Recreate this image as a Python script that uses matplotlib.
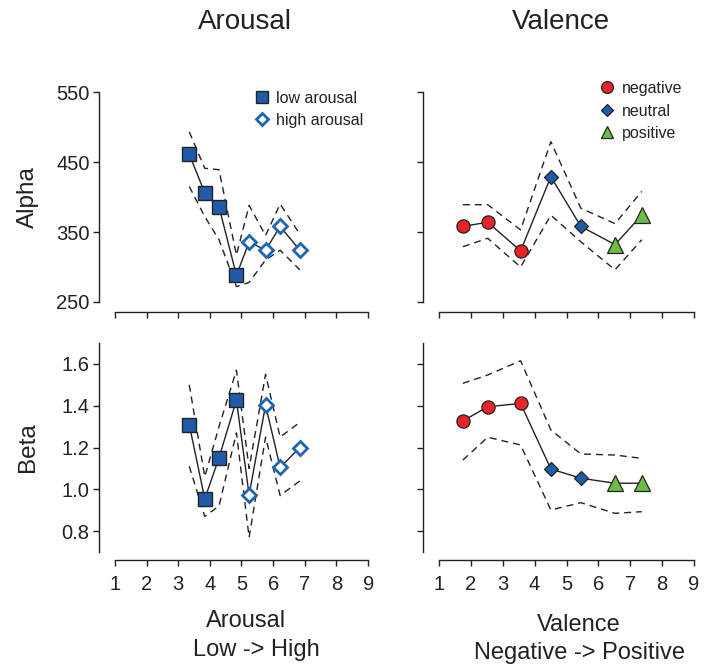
import matplotlib
matplotlib.use('Agg')
import matplotlib.pyplot as plt
from matplotlib.lines import Line2D

plt.rcParams['font.family'] = ['Liberation Sans', 'DejaVu Sans']

# ---------------- data ----------------
# Arousal panels (x = mean arousal rating of bins)
ar_x_low = [3.35, 3.84, 4.29, 4.84]
ar_x_high = [5.24, 5.76, 6.22, 6.84]

alpha_ar_low = [461, 406, 386, 288]
alpha_ar_high = [336, 324, 358, 324]
alpha_ar_upper = [493, 441, 439, 317, 388, 345, 390, 347]
alpha_ar_lower = [415, 372, 339, 272, 278, 310, 324, 296]

beta_ar_low = [1.31, 0.954, 1.151, 1.427]
beta_ar_high = [0.973, 1.403, 1.105, 1.199]
beta_ar_upper = [1.50, 1.06, 1.30, 1.57, 1.10, 1.55, 1.25, 1.32]
beta_ar_lower = [1.11, 0.87, 0.92, 1.27, 0.77, 1.25, 0.97, 1.04]

# Valence panels
val_x_neg = [1.75, 2.53, 3.56]
val_x_neu = [4.51, 5.45]
val_x_pos = [6.52, 7.36]

alpha_val_neg = [358, 364, 323]
alpha_val_neu = [429, 358]
alpha_val_pos = [332, 374]
alpha_val_upper = [389, 389, 353, 479, 384, 362, 408]
alpha_val_lower = [329, 341, 300, 374, 336, 296, 339]

beta_val_neg = [1.327, 1.395, 1.411]
beta_val_neu = [1.097, 1.053]
beta_val_pos = [1.029, 1.029]
beta_val_upper = [1.507, 1.547, 1.615, 1.284, 1.169, 1.164, 1.148]
beta_val_lower = [1.140, 1.249, 1.212, 0.901, 0.936, 0.885, 0.893]

x_ticks = [1, 2, 3, 4, 5, 6, 7, 8, 9]
alpha_ticks = [250, 350, 450, 550]
beta_ticks = [0.8, 1.0, 1.2, 1.4, 1.6]
beta_ticklabels = ['0.8', '1.0', '1.2', '1.4', '1.6']

# ---------------- style ----------------
BLUE = '#1f5ba8'
OPEN_BLUE = '#1e64b4'
RED = '#e8232a'
GREEN = '#6cbd45'
EDGE = '#222222'
DASH = (0, (5, 3.6))

W, H = 717, 665
fig = plt.figure(figsize=(W / 100, H / 100), dpi=100)


def ax_at(l, t, r, b):
    return fig.add_axes([l / W, 1 - b / H, (r - l) / W, (b - t) / H])


ax1 = ax_at(99, 92, 384, 302)
ax2 = ax_at(423, 92, 710, 302)
ax3 = ax_at(99, 343, 384, 552)
ax4 = ax_at(423, 343, 710, 552)

for ax, top in [(ax1, True), (ax2, True), (ax3, False), (ax4, False)]:
    ax.set_xlim(0.5, 9.5)
    ax.spines['top'].set_visible(False)
    ax.spines['right'].set_visible(False)
    ax.spines['bottom'].set_bounds(1, 9)
    ax.spines['bottom'].set_position(('outward', 7 if top else 6))
    for s in ('left', 'bottom'):
        ax.spines[s].set_linewidth(1.0)
        ax.spines[s].set_color('#222222')
    ax.set_xticks(x_ticks)
    ax.tick_params(axis='both', direction='out', length=4.3, width=1.0,
                   color='#222222', labelsize=14.5, labelcolor='#222222')
    ax.tick_params(axis='y', pad=2.5)
    ax.tick_params(axis='x', pad=6)
    if top:
        ax.set_ylim(250, 550)
        ax.set_yticks(alpha_ticks)
        ax.tick_params(axis='x', labelbottom=False)
    else:
        ax.set_ylim(0.7, 1.7)
        ax.set_yticks(beta_ticks)
        ax.set_yticklabels(beta_ticklabels)

for ax in (ax2, ax4):
    ax.tick_params(axis='y', labelleft=False)


def draw_arousal(ax, low, high, upper, lower):
    xs = ar_x_low + ar_x_high
    ys = low + high
    ax.plot(xs, upper, ls=DASH, color=EDGE, lw=1.0, zorder=1)
    ax.plot(xs, lower, ls=DASH, color=EDGE, lw=1.0, zorder=1)
    ax.plot(xs, ys, color=EDGE, lw=1.0, zorder=2)
    ax.plot(ar_x_low, low, ls='none', marker='s', ms=10, mfc=BLUE, mec=EDGE,
            mew=1.0, zorder=3)
    ax.plot(ar_x_high, high, ls='none', marker='D', ms=7, mfc='white',
            mec=OPEN_BLUE, mew=2.0, zorder=3)


def draw_valence(ax, neg, neu, pos, upper, lower):
    xs = val_x_neg + val_x_neu + val_x_pos
    ys = neg + neu + pos
    ax.plot(xs, upper, ls=DASH, color=EDGE, lw=1.0, zorder=1)
    ax.plot(xs, lower, ls=DASH, color=EDGE, lw=1.0, zorder=1)
    ax.plot(xs, ys, color=EDGE, lw=1.0, zorder=2)
    ax.plot(val_x_neg, neg, ls='none', marker='o', ms=9.5, mfc=RED, mec=EDGE,
            mew=0.9, zorder=3)
    ax.plot(val_x_neu, neu, ls='none', marker='D', ms=7.2, mfc=BLUE, mec=EDGE,
            mew=0.9, zorder=3)
    ax.plot(val_x_pos, pos, ls='none', marker='^', ms=11, mfc=GREEN, mec=EDGE,
            mew=0.9, zorder=3)


draw_arousal(ax1, alpha_ar_low, alpha_ar_high, alpha_ar_upper, alpha_ar_lower)
draw_arousal(ax3, beta_ar_low, beta_ar_high, beta_ar_upper, beta_ar_lower)
draw_valence(ax2, alpha_val_neg, alpha_val_neu, alpha_val_pos,
             alpha_val_upper, alpha_val_lower)
draw_valence(ax4, beta_val_neg, beta_val_neu, beta_val_pos,
             beta_val_upper, beta_val_lower)

# legends
h_low = Line2D([], [], ls='none', marker='s', ms=8, mfc=BLUE, mec=EDGE, mew=1.0)
h_high = Line2D([], [], ls='none', marker='D', ms=6, mfc='white', mec=OPEN_BLUE, mew=2.0)
ax1.legend([h_low, h_high], ['low arousal', 'high arousal'], loc='upper left',
           bbox_to_anchor=(254 / W, 1 - 91 / H), bbox_transform=fig.transFigure,
           frameon=False, fontsize=11.5, handlelength=1.0, handletextpad=0.4,
           labelspacing=0.42, borderpad=0, borderaxespad=0, labelcolor='#222222')

h_neg = Line2D([], [], ls='none', marker='o', ms=8.5, mfc=RED, mec=EDGE, mew=0.9)
h_neu = Line2D([], [], ls='none', marker='D', ms=6, mfc=BLUE, mec=EDGE, mew=0.9)
h_pos = Line2D([], [], ls='none', marker='^', ms=9, mfc=GREEN, mec=EDGE, mew=0.9)
ax2.legend([h_neg, h_neu, h_pos], ['negative', 'neutral', 'positive'], loc='upper left',
           bbox_to_anchor=(599 / W, 1 - 81 / H), bbox_transform=fig.transFigure,
           frameon=False, fontsize=11.5, handlelength=1.0, handletextpad=0.45,
           labelspacing=0.47, borderpad=0, borderaxespad=0, labelcolor='#222222')

# titles and labels
TXT = '#222222'
fig.text(245 / W, 1 - 22 / H, 'Arousal', ha='center', va='center', fontsize=20, color=TXT)
fig.text(561 / W, 1 - 22 / H, 'Valence', ha='center', va='center', fontsize=20, color=TXT)
fig.text(28 / W, 1 - 197 / H, 'Alpha', ha='center', va='center', rotation=90,
         fontsize=17.5, color=TXT)
fig.text(28 / W, 1 - 447 / H, 'Beta', ha='center', va='center', rotation=90,
         fontsize=17.5, color=TXT)
fig.text(246 / W, 1 - 621 / H, 'Arousal', ha='center', va='center', fontsize=17, color=TXT)
fig.text(256 / W, 1 - 650 / H, 'Low -> High', ha='center', va='center', fontsize=17, color=TXT)
fig.text(579 / W, 1 - 625 / H, 'Valence', ha='center', va='center', fontsize=17, color=TXT)
fig.text(580 / W, 1 - 653 / H, 'Negative -> Positive', ha='center', va='center',
         fontsize=17, color=TXT)

fig.savefig('out.png', dpi=100)
